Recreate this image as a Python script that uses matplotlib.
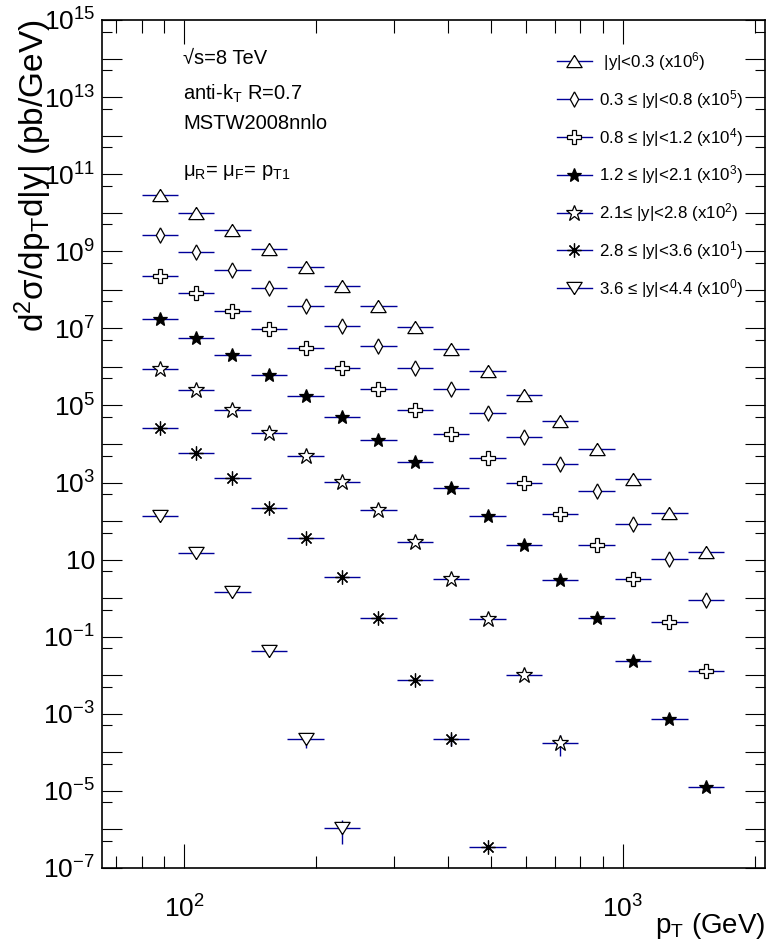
import numpy as np
import matplotlib.pyplot as plt
from matplotlib.lines import Line2D
from matplotlib.ticker import FixedLocator, FixedFormatter, NullFormatter

plt.rcParams['font.family'] = ['Liberation Sans', 'DejaVu Sans']
plt.rcParams['mathtext.default'] = 'regular'

# pT bin edges (GeV)
pt_edges = [80, 97, 117, 142, 172, 208, 252, 305, 369, 446, 541, 654, 790, 959, 1158, 1406, 1699]

labels = [r' |y|<0.3 (x10$^{6}$)',
          r'0.3 ≤ |y|<0.8 (x10$^{5}$)',
          r'0.8 ≤ |y|<1.2 (x10$^{4}$)',
          r'1.2 ≤ |y|<2.1 (x10$^{3}$)',
          r'2.1≤ |y|<2.8 (x10$^{2}$)',
          r'2.8 ≤ |y|<3.6 (x10$^{1}$)',
          r'3.6 ≤ |y|<4.4 (x10$^{0}$)']
scales = [1e6, 1e5, 1e4, 1e3, 1e2, 1e1, 1e0]

# unscaled cross sections, pb/GeV
xs_y00_03 = [2.83e4, 1.0e4, 3560, 1170, 398, 126, 37.3, 10.8, 2.97, 0.769, 0.190,
             0.0402, 7.41e-3, 1.21e-3, 1.65e-4, 1.61e-5]
xs_y03_08 = [2.59e4, 9400, 3330, 1110, 373, 115, 34.8, 9.37, 2.62, 0.648, 0.152,
             0.0308, 5.93e-3, 8.24e-4, 1.02e-4, 8.97e-6]
xs_y08_12 = [2.28e4, 8260, 2870, 946, 304, 93.7, 27.2, 7.76, 1.85, 0.441, 0.0955,
             0.0156, 2.44e-3, 3.09e-4, 2.45e-5, 1.31e-6]
xs_y12_21 = [1.72e4, 5730, 2000, 605, 179, 51.1, 12.7, 3.35, 0.708, 0.136, 0.0236,
             2.96e-3, 3.11e-4, 2.34e-5, 7.19e-7, 1.29e-8]
xs_y21_28 = [8670, 2560, 762, 196, 48.8, 10.5, 1.94, 0.286, 0.0309, 2.83e-3,
             1.04e-4, 1.78e-6]
xs_y28_36 = [2550, 594, 134, 22.2, 3.57, 0.361, 0.0311, 7.53e-4, 2.22e-5, 3.56e-8]
xs_y36_44 = [136, 15.1, 1.47, 0.0419, 2.26e-4, 1.07e-6]

# relative statistical uncertainty (only the visible ones)
err_y21_28 = [0, 0, 0, 0, 0, 0, 0, 0, 0, 0, 0, 0.55]
err_y28_36 = [0, 0, 0, 0, 0, 0, 0, 0, 0.33, 0]
err_y36_44 = [0, 0, 0, 0, 0.44, 0.6]

series = [xs_y00_03, xs_y03_08, xs_y08_12, xs_y12_21, xs_y21_28, xs_y28_36, xs_y36_44]
errors = [None, None, None, None, err_y21_28, err_y28_36, err_y36_44]

tri_up = [(0, 0.8), (-1, -0.8), (1, -0.8), (0, 0.8)]
tri_dn = [(0, -0.8), (-1, 0.8), (1, 0.8), (0, -0.8)]
thin_dia = [(0, 1), (0.55, 0), (0, -1), (-0.55, 0), (0, 1)]
styles = [dict(marker=tri_up, ms=11, mfc='white'),
          dict(marker=thin_dia, ms=11, mfc='white'),
          dict(marker='P', ms=10, mfc='white'),
          dict(marker='*', ms=10, mfc='black'),
          dict(marker='*', ms=12, mfc='white'),
          dict(marker=(8, 2, 0), ms=10, mfc='black'),
          dict(marker=tri_dn, ms=11, mfc='white')]

blue = '#000099'

fig = plt.figure(figsize=(7.75, 9.46), dpi=100)
ax = fig.add_axes([0.1316, 0.0825, 0.8555, 0.8964])
ax.set_xscale('log')
ax.set_yscale('log')

edges = np.array(pt_edges, dtype=float)
centers = np.sqrt(edges[:-1] * edges[1:])

handles = []
for vals, sc, st, err, lab in zip(series, scales, styles, errors, labels):
    n = len(vals)
    x = centers[:n]
    y = np.array(vals) * sc
    xerr = [x - edges[:n], edges[1:n + 1] - x]
    yerr = None if err is None else np.array(err) * y
    ax.errorbar(x, y, xerr=xerr, yerr=yerr, fmt='none', ecolor=blue,
                elinewidth=1.0, capsize=0, zorder=2)
    ax.plot(x, y, ls='none', mec='black', mew=0.9, zorder=3, **st)
    if st['marker'] == (8, 2, 0):
        ax.plot(x, y, ls='none', marker='o', ms=2.5, color='black', zorder=4)
    handles.append(Line2D([], [], color=blue, lw=1.0, mec='black', mew=0.9, **st))

ax.set_xlim(65, 2106)
ax.set_ylim(1e-7, 1e15)

# y ticks
ydec = [10.0 ** k for k in range(-7, 16)]
ax.yaxis.set_major_locator(FixedLocator(ydec))
ylabs = []
for k in range(-7, 16):
    if k % 2 == 0:
        ylabs.append('')
    elif k == 1:
        ylabs.append('10')
    else:
        ylabs.append(r'10$^{%d}$' % k)
ax.yaxis.set_major_formatter(FixedFormatter(ylabs))
ax.yaxis.set_minor_locator(FixedLocator([5 * 10.0 ** k for k in range(-8, 15)]))
ax.yaxis.set_minor_formatter(NullFormatter())

# x ticks
ax.xaxis.set_major_locator(FixedLocator([100, 1000]))
ax.xaxis.set_major_formatter(FixedFormatter([r'10$^{2}$', r'10$^{3}$']))
xminor = [70, 80, 90, 200, 300, 400, 500, 600, 700, 800, 900, 2000]
ax.xaxis.set_minor_locator(FixedLocator(xminor))
ax.xaxis.set_minor_formatter(NullFormatter())

ax.tick_params(which='both', direction='in', top=True, right=True, width=0.8,
               labelsize=19)
ax.tick_params(axis='y', which='major', length=14.5, pad=5)
ax.tick_params(axis='y', which='minor', length=7.2)
ax.tick_params(axis='x', which='major', length=17, pad=20)
ax.tick_params(axis='x', which='minor', length=9)
for s in ax.spines.values():
    s.set_linewidth(1.2)

ax.set_ylabel(r'd$^{2}$σ/dp$_{T}$d|y| (pb/GeV)', fontsize=24, loc='top')
ax.yaxis.set_label_coords(-0.072, 1.0)
ax.set_xlabel(r'p$_{T}$ (GeV)', fontsize=20, loc='right')
ax.xaxis.set_label_coords(1.0, -0.051)

ax.text(0.122, 0.948, '√s=8 TeV', transform=ax.transAxes, fontsize=14.5)
ax.text(0.122, 0.906, r'anti-k$_{T}$ R=0.7', transform=ax.transAxes, fontsize=14.5)
ax.text(0.122, 0.871, 'MSTW2008nnlo', transform=ax.transAxes, fontsize=14.5)
ax.text(0.122, 0.816, r'μ$_{R}$= μ$_{F}$= p$_{T1}$', transform=ax.transAxes, fontsize=14.5)

ax.legend(handles, labels, loc='upper left', bbox_to_anchor=(0.686, 0.9646),
          frameon=False, fontsize=12.2, handlelength=2.07, handletextpad=0.41,
          labelspacing=0.88, borderpad=0, borderaxespad=0)

fig.savefig('out.png', dpi=100)
